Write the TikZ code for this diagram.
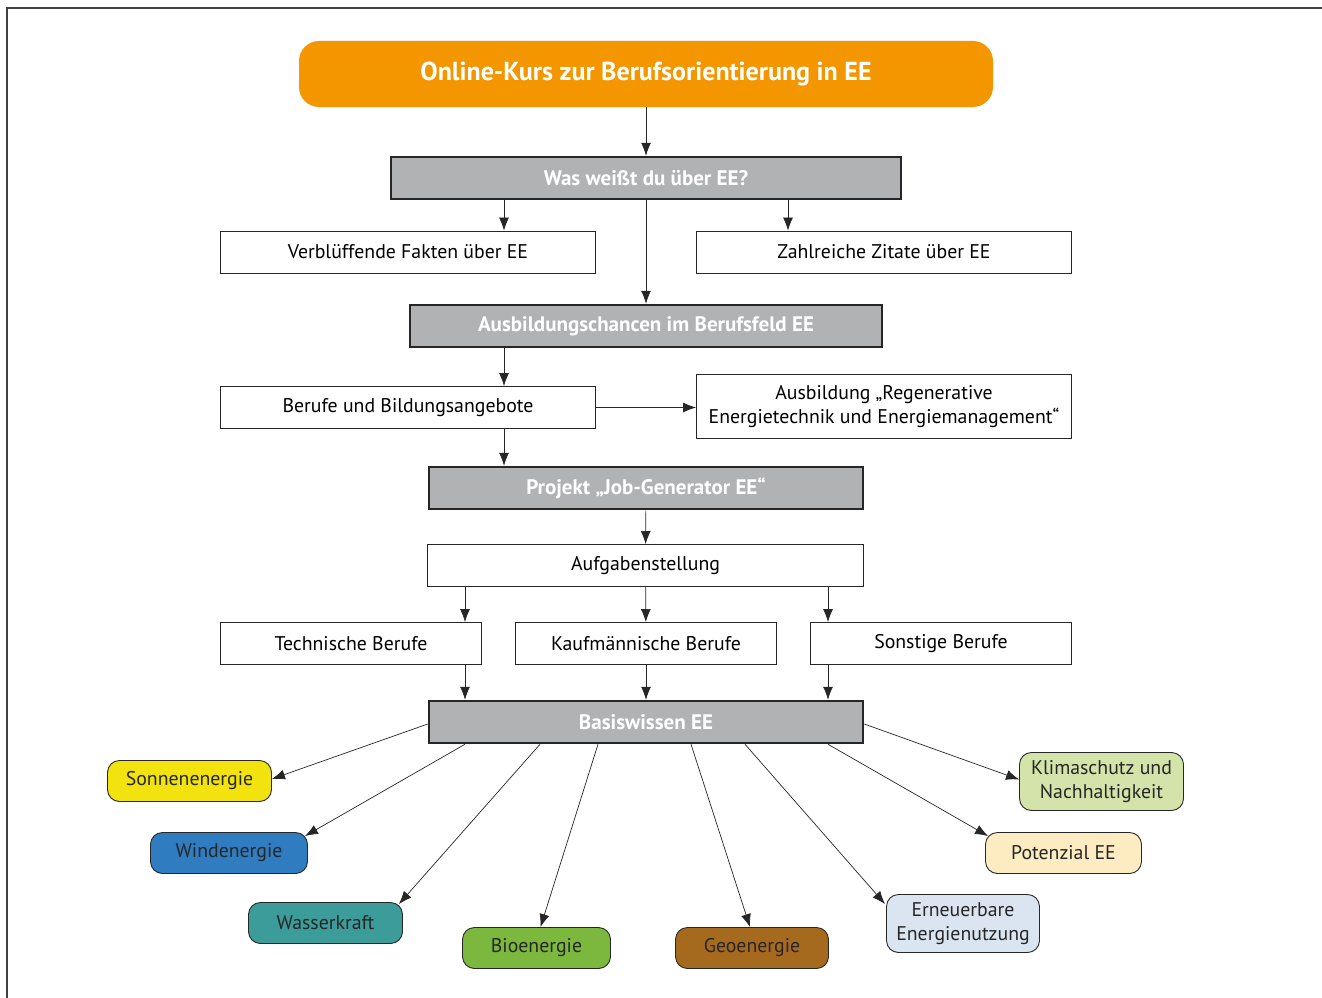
\documentclass[tikz,border=0pt]{standalone}
\usepackage{fontspec}
\setmainfont{PT Sans}
\usetikzlibrary{positioning, calc, arrows.meta}

\definecolor{eeorange}{HTML}{F39600}
\definecolor{eegrau}{HTML}{B1B2B4}
\definecolor{sonne}{HTML}{F2E20D}
\definecolor{wind}{HTML}{2F7DC0}
\definecolor{wasser}{HTML}{3C9C99}
\definecolor{bio}{HTML}{7CB83D}
\definecolor{geo}{HTML}{A66A1F}
\definecolor{erneuer}{HTML}{DAE5F1}
\definecolor{potenzial}{HTML}{FDEBC1}
\definecolor{klima}{HTML}{D3E3A9}

\begin{document}
\begin{tikzpicture}[x=1pt, y=-1pt,
    grau/.style={draw=black!85, line width=2.5pt, fill=eegrau, text=white,
      font=\bfseries\fontsize{21}{24}\selectfont, minimum height=42pt, inner sep=0pt},
    weiss/.style={draw=black!85, line width=0.9pt, fill=white, align=center,
      font=\fontsize{19.8}{24}\selectfont, minimum height=42pt, inner sep=0pt},
    thema/.style={draw=black!85, line width=0.9pt, rounded corners=12pt, align=center,
      text=black!85, font=\fontsize{19.8}{24}\selectfont, minimum height=41pt, inner sep=0pt},
    pfeil/.style={-{Latex[length=13pt,width=10pt]}, line width=0.7pt, draw=black!85}]
  \useasboundingbox (0,0) rectangle (1322,998);
  % Rahmen
  \draw[line width=1.5pt, black!75] (7,998) -- (7,8) -- (1322,8);

  % Kopf
  \node[fill=eeorange, rounded corners=20pt, text=white, minimum width=694pt, minimum height=66pt,
    font=\bfseries\fontsize{26}{30}\selectfont] (kurs) at (646,74) {Online-Kurs zur Berufsorientierung in EE};

  \node[grau, minimum width=510pt] (was) at (646,178) {Was weißt du über EE?};
  \node[weiss, minimum width=375pt] (fakten) at (408,252) {Verblüffende Fakten über EE};
  \node[weiss, minimum width=375pt] (zitate) at (884,252) {Zahlreiche Zitate über EE};

  \node[grau, minimum width=472pt] (chancen) at (646,326) {Ausbildungschancen im Berufsfeld EE};
  \node[weiss, minimum width=375pt] (berufe) at (408,407.5) {Berufe und Bildungsangebote};
  \node[weiss, minimum width=375pt, minimum height=64pt] (regen) at (884,406.5)
    {Ausbildung „Regenerative\\Energietechnik und Energiemanagement“};

  \node[grau, minimum width=434pt] (projekt) at (646,488) {Projekt „Job-Generator EE“};
  \node[weiss, minimum width=436pt] (aufgabe) at (645.5,565.5) {Aufgabenstellung};
  \node[weiss, minimum width=261pt] (technik) at (351,643.5) {Technische Berufe};
  \node[weiss, minimum width=261pt] (kaufm) at (646,643.5) {Kaufmännische Berufe};
  \node[weiss, minimum width=261pt] (sonst) at (941,643.5) {Sonstige Berufe};

  \node[grau, minimum width=434pt] (basis) at (646,722) {Basiswissen EE};

  % Themen
  \node[thema, fill=sonne, minimum width=164pt] (sonnen) at (189.5,781) {Sonnenenergie};
  \node[thema, fill=wind, minimum width=157pt] (winden) at (229,853) {Windenergie};
  \node[thema, fill=wasser, minimum width=154pt] (wasserk) at (325.5,923) {Wasserkraft};
  \node[thema, fill=bio, minimum width=148pt] (bioen) at (536.5,948) {Bioenergie};
  \node[thema, fill=geo, minimum width=153pt] (geoen) at (752,948) {Geoenergie};
  \node[thema, fill=erneuer, minimum width=153pt, minimum height=58pt] (ernen) at (963,923.5)
    {Erneuerbare\\Energienutzung};
  \node[thema, fill=potenzial, minimum width=156pt] (poten) at (1063.5,853) {Potenzial EE};
  \node[thema, fill=klima, minimum width=164pt, minimum height=58pt] (klimas) at (1101.5,781.5)
    {Klimaschutz und\\Nachhaltigkeit};

  % Spalten
  \coordinate (xa) at (504,0);
  \coordinate (xb) at (788,0);
  \coordinate (xc) at (465,0);
  \coordinate (xd) at (828,0);

  % Pfeile
  \draw[pfeil] (kurs) -- (was);
  \draw[pfeil] (was.south -| xa) -- (fakten.north -| xa);
  \draw[pfeil] (was.south -| xb) -- (zitate.north -| xb);
  \draw[pfeil] (was) -- (chancen);
  \draw[pfeil] (chancen.south -| xa) -- (berufe.north -| xa);
  \draw[pfeil] (berufe) -- (regen.west |- berufe);
  \draw[pfeil] (berufe.south -| xa) -- (projekt.north -| xa);
  \draw[pfeil] (projekt) -- (aufgabe);
  \draw[pfeil] (aufgabe.south -| xc) -- (technik.north -| xc);
  \draw[pfeil] (aufgabe) -- (kaufm);
  \draw[pfeil] (aufgabe.south -| xd) -- (sonst.north -| xd);
  \draw[pfeil] (technik.south -| xc) -- (basis.north -| xc);
  \draw[pfeil] (kaufm) -- (basis);
  \draw[pfeil] (sonst.south -| xd) -- (basis.north -| xd);

  \draw[pfeil] ([yshift=-2pt]basis.west) -- ([yshift=2pt]sonnen.east);
  \draw[pfeil] ([xshift=-181pt]basis.south) -- ([xshift=-3pt,yshift=-4pt]winden.north east);
  \draw[pfeil] ([xshift=-106pt]basis.south) -- ([xshift=-4pt,yshift=-2pt]wasserk.north east);
  \draw[pfeil] ([xshift=-48pt]basis.south) -- ([xshift=4pt]bioen.north);
  \draw[pfeil] ([xshift=45pt]basis.south) -- ([xshift=-2pt]geoen.north);
  \draw[pfeil] ([xshift=99pt]basis.south) -- ([xshift=-1pt,yshift=-10pt]ernen.north west);
  \draw[pfeil] ([xshift=182pt]basis.south) -- ([xshift=3pt,yshift=-4pt]poten.north west);
  \draw[pfeil] ([yshift=-2pt]basis.east) -- ([yshift=2pt]klimas.west);
\end{tikzpicture}
\end{document}
